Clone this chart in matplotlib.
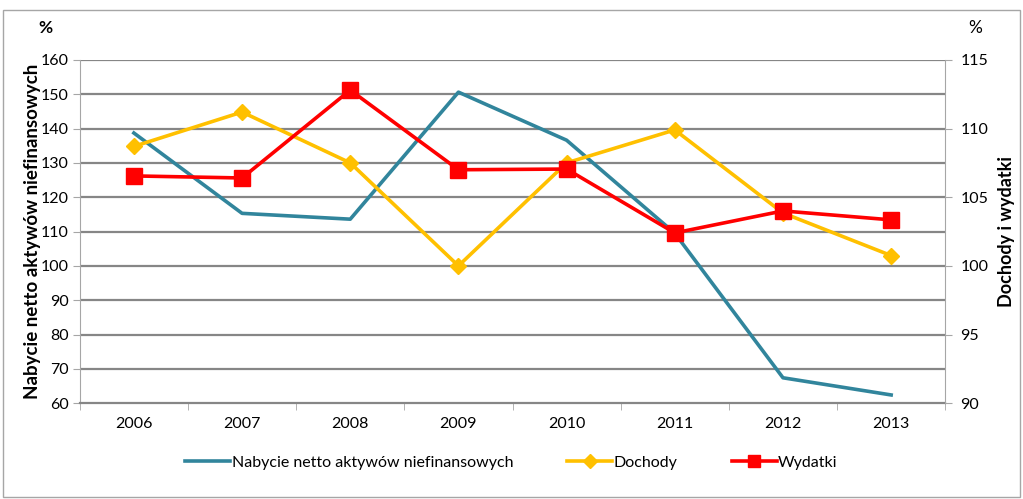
import matplotlib
matplotlib.use("Agg")
import matplotlib.pyplot as plt
from matplotlib.lines import Line2D
from matplotlib.patches import Rectangle

plt.rcParams['font.family'] = ['Lato', 'DejaVu Sans']

years = ['2006', '2007', '2008', '2009', '2010', '2011', '2012', '2013']
nabycie = [138.7, 115.3, 113.6, 150.6, 136.6, 109.5, 67.4, 62.4]
dochody = [108.7, 111.2, 107.5, 100.0, 107.5, 109.9, 103.85, 100.75]
wydatki = [106.55, 106.4, 112.8, 107.0, 107.05, 102.4, 104.0, 103.35]

teal = '#31859C'
yellow = '#FFC000'
red = '#FF0000'
grid_c = '#868686'

fig = plt.figure(figsize=(10.23, 4.99), dpi=100)
ax = fig.add_axes([0.078, 0.192, 0.846, 0.688])
ax2 = ax.twinx()

x = list(range(len(years)))
ax.plot(x, nabycie, color=teal, lw=2.6, zorder=3)
ax2.plot(x, dochody, color=yellow, lw=2.6, marker='D', ms=8, zorder=3)
ax2.plot(x, wydatki, color=red, lw=2.6, marker='s', ms=11, zorder=4)

ax.set_xlim(-0.5, 7.5)
ax.set_ylim(60, 160)
ax2.set_ylim(90, 115)
ax.set_yticks(range(60, 161, 10))
ax2.set_yticks(range(90, 116, 5))
ax.set_xticks(x)
ax.set_xticklabels(years)
ax.set_xticks([i - 0.5 for i in range(9)], minor=True)

for yv in range(70, 161, 10):
    ax.axhline(yv, color=grid_c, lw=1.6, zorder=1)

for a in (ax, ax2):
    a.spines['top'].set_visible(False)
ax.spines['right'].set_visible(False)
ax2.spines['left'].set_visible(False)
ax2.spines['bottom'].set_visible(False)
ax.spines['left'].set_color('#A6A6A6')
ax.spines['bottom'].set_color(grid_c)
ax.spines['bottom'].set_linewidth(1.6)
ax2.spines['right'].set_color('#A6A6A6')

ax.tick_params(axis='x', which='major', length=0, labelsize=11.5, pad=10)
ax.tick_params(axis='x', which='minor', length=5, color='#A6A6A6', direction='out')
ax.tick_params(axis='y', length=5, color='#A6A6A6', labelsize=11.5, pad=3)
ax2.tick_params(axis='y', length=5, color='#A6A6A6', labelsize=11.5, pad=6)

ax.set_ylabel('Nabycie netto aktywów niefinansowych', fontsize=13.5,
              fontweight='bold', labelpad=0)
ax2.set_ylabel('Dochody i wydatki', fontsize=13, fontweight='bold', labelpad=7)

fig.text(0.044, 0.943, '%', fontsize=12.5, fontweight='bold', ha='center', va='center')
fig.text(0.953, 0.943, '%', fontsize=12.5, ha='center', va='center')

handles = [
    Line2D([], [], color=teal, lw=2.6),
    Line2D([], [], color=yellow, lw=2.6, marker='D', ms=7),
    Line2D([], [], color=red, lw=2.6, marker='s', ms=9),
]
labels = ['Nabycie netto aktywów niefinansowych', 'Dochody', 'Wydatki']
fig.legend(handles, labels, loc='center', bbox_to_anchor=(0.5, 0.073), ncol=3,
           frameon=False, fontsize=11.5, handlelength=2.8, handletextpad=0.1,
           columnspacing=3.4)

fig.patches.append(Rectangle((0.003, 0.004), 0.994, 0.975, transform=fig.transFigure,
                             fill=False, edgecolor='#A6A6A6', lw=1))

fig.savefig('out.png', dpi=100)
